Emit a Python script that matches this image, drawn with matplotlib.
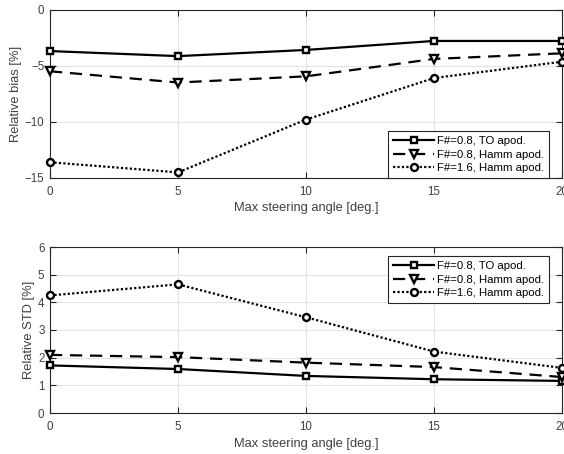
import matplotlib
matplotlib.use("Agg")
import matplotlib.pyplot as plt

plt.rcParams['font.family'] = ['Liberation Sans', 'DejaVu Sans']

angles = [0, 5, 10, 15, 20]
labels = ["F#=0.8, TO apod.", "F#=0.8, Hamm apod.", "F#=1.6, Hamm apod."]

bias_to_08 = [-3.7, -4.15, -3.6, -2.8, -2.8]
bias_hamm_08 = [-5.5, -6.5, -5.95, -4.4, -3.9]
bias_hamm_16 = [-13.6, -14.5, -9.8, -6.1, -4.65]

std_to_08 = [1.72, 1.59, 1.34, 1.22, 1.16]
std_hamm_08 = [2.1, 2.02, 1.82, 1.66, 1.3]
std_hamm_16 = [4.25, 4.65, 3.46, 2.22, 1.63]

xticks = [0, 5, 10, 15, 20]
bias_ticks = [-15, -10, -5, 0]
std_ticks = [0, 1, 2, 3, 4, 5, 6]

ax_col = '#262626'
lbl_col = '#404040'
styles = [
    dict(linestyle='-', marker='s', markersize=4.2),
    dict(linestyle=(0, (5.5, 3.5)), marker='v', markersize=5.8),
    dict(linestyle=(0, (1, 1)), marker='o', markersize=5),
]

fig = plt.figure(figsize=(5.64, 4.54), dpi=100)
ax1 = fig.add_axes([50/564, 1-178/454, 512/564, 168.5/454])
ax2 = fig.add_axes([50/564, 1-413/454, 512/564, 166/454])


def draw(ax, series, yticks, ylim, ylabel, legend_box):
    for ys, st, lab in zip(series, styles, labels):
        ax.plot(angles, ys, color='black', linewidth=1.6,
                markerfacecolor='white', markeredgecolor='black',
                markeredgewidth=1.7, label=lab, clip_on=False, zorder=3, **st)
    ax.set_xlim(0, 20)
    ax.set_ylim(*ylim)
    ax.set_xticks(xticks)
    ax.set_yticks(yticks)
    ax.grid(True, color='#e3e3e3', linewidth=0.8)
    ax.set_axisbelow(True)
    for s in ax.spines.values():
        s.set_color(ax_col)
        s.set_linewidth(0.8)
    ax.tick_params(direction='in', length=4, width=0.8, color=ax_col,
                   labelcolor=lbl_col, labelsize=8.3, top=True, right=True)
    ax.tick_params(axis='x', pad=6)
    ax.tick_params(axis='y', pad=4)
    ax.set_xlabel("Max steering angle [deg.]", fontsize=9.3, color=lbl_col,
                  labelpad=3)
    ax.set_ylabel(ylabel, fontsize=9.3, color=lbl_col, labelpad=2)
    leg = ax.legend(loc='upper left', bbox_to_anchor=legend_box,
                    bbox_transform=fig.transFigure, fontsize=8.2,
                    frameon=True, fancybox=False, handlelength=3.6,
                    handletextpad=0.25, borderpad=0.45, labelspacing=0.3,
                    borderaxespad=0, framealpha=1)
    leg.get_frame().set_edgecolor(ax_col)
    leg.get_frame().set_linewidth(0.8)


draw(ax1, [bias_to_08, bias_hamm_08, bias_hamm_16], bias_ticks, (-15, 0),
     "Relative bias [%]", (388/564, 1-131/454))
draw(ax2, [std_to_08, std_hamm_08, std_hamm_16], std_ticks, (0, 6),
     "Relative STD [%]", (388/564, 1-256/454))

fig.savefig("out.png", dpi=100)
